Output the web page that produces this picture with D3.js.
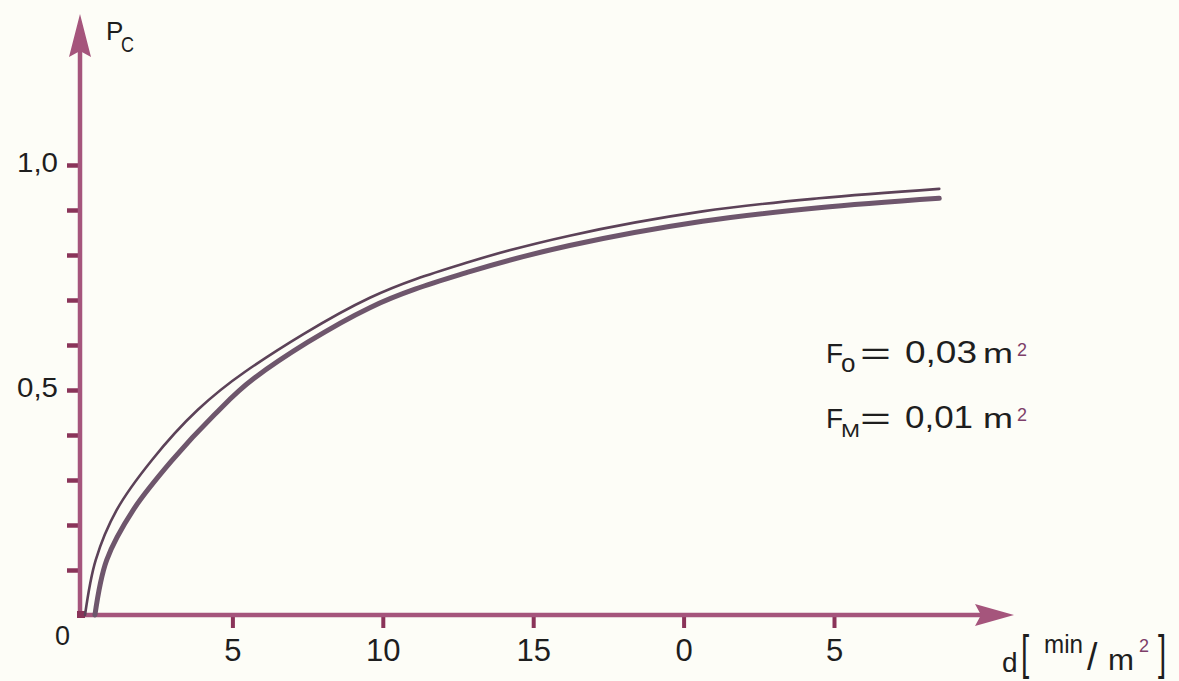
<!DOCTYPE html>
<html>
<head>
<meta charset="utf-8">
<script src="https://d3js.org/d3.v7.min.js"></script>
<style>
  body { margin: 0; background: #fdfdf7; }
  svg { display: block; font-family: "Liberation Sans", Arial, sans-serif; }
</style>
</head>
<body>
<script>
var width = 1179, height = 681;

// x ticks and their printed labels (as in the original figure)
var xTickValues = [5, 10, 15, 20, 25];
var xTickLabels = ["5", "10", "15", "0", "5"];
// y ticks every 0.1, only 0.5 and 1.0 labelled
var yTickValues = [0.1, 0.2, 0.3, 0.4, 0.5, 0.6, 0.7, 0.8, 0.9, 1.0];
var yTickLabels = {0.5: "0,5", 1: "1,0"};

// upper (thin) curve
var upperD = [0.1, 0.455, 1.15, 2.32, 3.85, 5.41, 9.57, 12.89, 16.21, 20.63, 24.5, 28.5];
var upperP = [0, 0.122, 0.233, 0.344, 0.456, 0.54, 0.705, 0.785, 0.843, 0.897, 0.926, 0.947];
// lower (thick) curve
var lowerD = [0.43, 0.82, 1.7, 3.0, 4.4, 5.7, 9.57, 12.89, 16.21, 20.63, 24.5, 28.5];
var lowerP = [0, 0.122, 0.233, 0.344, 0.445, 0.525, 0.683, 0.763, 0.821, 0.875, 0.905, 0.926];

var axisColor = "#a5557c", tickColor = "#8a3459", textColor = "#1e1e1e", supColor = "#7d3f69";

var svg = d3.select("body").append("svg")
    .attr("width", width)
    .attr("height", height);

var x = d3.scaleLinear().domain([0, 25]).range([82, 834]);
var y = d3.scaleLinear().domain([0, 1]).range([615, 165]);

// text helper, optional stretched width
function label(parent, str, xx, yy, size, len, fill) {
    var t = parent.append("text")
        .attr("x", xx).attr("y", yy)
        .attr("font-size", size)
        .attr("fill", fill || textColor)
        .text(str);
    if (len) t.attr("textLength", len).attr("lengthAdjust", "spacingAndGlyphs");
    return t;
}

function drawAxes() {
    // x axis ticks + labels
    var xAxis = svg.append("g")
        .attr("transform", "translate(0,615)")
        .call(d3.axisBottom(x).tickValues(xTickValues).tickSize(13)
            .tickFormat(function(d, i){ return xTickLabels[i]; }));
    xAxis.select(".domain").remove();
    xAxis.selectAll("line").attr("stroke", tickColor).attr("stroke-width", 4);
    xAxis.selectAll("text")
        .attr("y", 46).attr("dy", 0)
        .attr("fill", textColor)
        .attr("font-size", 31)
        .attr("font-family", "Liberation Sans, Arial, sans-serif");

    // y axis ticks + labels
    var yAxis = svg.append("g")
        .attr("transform", "translate(80,0)")
        .call(d3.axisLeft(y).tickValues(yTickValues).tickSize(13)
            .tickFormat(function(d){ return yTickLabels[Math.round(d * 10) / 10] || ""; }));
    yAxis.select(".domain").remove();
    yAxis.selectAll("line").attr("stroke", tickColor).attr("stroke-width", 4.5);
    yAxis.selectAll("text")
        .attr("x", -22).attr("dy", "0.24em")
        .attr("fill", textColor)
        .attr("font-size", 27)
        .attr("textLength", function(){ return this.textContent ? 41 : null; })
        .attr("lengthAdjust", "spacingAndGlyphs")
        .attr("font-family", "Liberation Sans, Arial, sans-serif");

    // axis lines with arrow heads
    svg.append("line")
        .attr("x1", 80).attr("y1", 617).attr("x2", 80).attr("y2", 48)
        .attr("stroke", axisColor).attr("stroke-width", 4.5);
    svg.append("line")
        .attr("x1", 78).attr("y1", 615).attr("x2", 985).attr("y2", 615)
        .attr("stroke", axisColor).attr("stroke-width", 4.5);
    svg.append("path")
        .attr("d", "M80,14 L91,57 L80,51 L69,57 Z")
        .attr("fill", axisColor);
    svg.append("path")
        .attr("d", "M1014,615 L975,604 L981,615 L975,626 Z")
        .attr("fill", axisColor);
    svg.append("rect")
        .attr("x", 77).attr("y", 611).attr("width", 8).attr("height", 7)
        .attr("fill", tickColor);

    // origin label
    label(svg, "0", 55, 645, 27);

    // y axis title P_C
    label(svg, "P", 106, 40, 26);
    label(svg, "C", 121, 52, 22, 13);

    // x axis title d [min/m²]
    var xt = svg.append("g");
    label(xt, "d", 1002, 672, 28);
    xt.append("text").attr("transform", "translate(1021,669) scale(0.6,1)")
        .attr("font-size", 49).attr("fill", textColor).text("[");
    label(xt, "min", 1044, 653, 25, 39);
    xt.append("text").attr("transform", "translate(1087,670) scale(1.25,1.3)")
        .attr("font-size", 30).attr("fill", textColor).text("/");
    label(xt, "m", 1108, 670, 29, 26);
    label(xt, "2", 1139, 652, 18, null, supColor);
    xt.append("text").attr("transform", "translate(1158,669) scale(0.6,1)")
        .attr("font-size", 49).attr("fill", textColor).text("]");
}

function drawCurves() {
    var line = d3.line()
        .x(function(d){ return x(d[0]); })
        .y(function(d){ return y(d[1]); })
        .curve(d3.curveCatmullRom.alpha(0.5));

    var lower = lowerD.map(function(d, i){ return [d, lowerP[i]]; });
    var upper = upperD.map(function(d, i){ return [d, upperP[i]]; });

    svg.append("path")
        .datum(lower)
        .attr("d", line)
        .attr("fill", "none")
        .attr("stroke", "#6e566c")
        .attr("stroke-width", 5)
        .attr("stroke-linecap", "round");

    svg.append("path")
        .datum(upper)
        .attr("d", line)
        .attr("fill", "none")
        .attr("stroke", "#5c4258")
        .attr("stroke-width", 2.6)
        .attr("stroke-linecap", "round");
}

function drawLegend() {
    var rows = [
        {sub: "o", subSize: 26, subLen: null, value: "0,03", valueLen: 72, y: 363},
        {sub: "M", subSize: 18, subLen: 19, value: "0,01", valueLen: 68, y: 428}
    ];
    rows.forEach(function(r){
        var g = svg.append("g");
        label(g, "F", 826, r.y, 28);
        label(g, r.sub, 841, r.y + 9, r.subSize, r.subLen);
        label(g, "=", 860, r.y + 1, 32, 31);
        label(g, r.value, 905, r.y, 31, r.valueLen);
        label(g, "m", 983, r.y, 28, 30);
        label(g, "2", 1017, r.y - 7, 18, null, supColor);
    });
}

drawAxes();
drawCurves();
drawLegend();
</script>
</body>
</html>
